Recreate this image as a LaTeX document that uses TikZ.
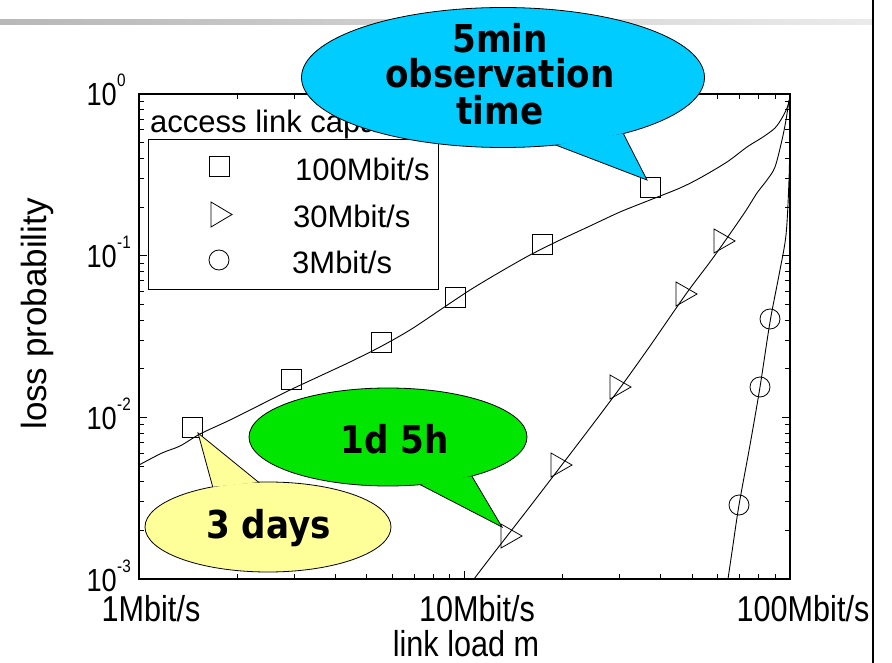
\documentclass[tikz,border=0pt]{standalone}
\usepackage{fontspec}
\setmainfont{Liberation Sans}
\newfontfamily\narrowfont[FakeStretch=0.85]{Liberation Sans}
\newfontfamily\callfont[FakeStretch=0.89]{DejaVu Sans}
\usetikzlibrary{shapes.geometric}
\definecolor{cblue}{RGB}{0,204,255}
\definecolor{cgreen}{RGB}{0,230,0}
\definecolor{cyellow}{RGB}{255,255,153}
\tikzset{
  frame/.style={line width=1.5pt},
  tick/.style={line width=0.8pt},
  curve/.style={line width=0.9pt},
  sqm/.style={draw, rectangle, minimum size=20pt, inner sep=0pt, outer sep=0pt, line width=0.8pt},
  cim/.style={draw, circle, minimum size=20pt, inner sep=0pt, outer sep=0pt, line width=0.8pt},
  trim/.style={line width=0.8pt, line join=miter},
  xlab/.style={font=\narrowfont\fontsize{36}{38}\selectfont, inner sep=0pt, anchor=base},
  ylab/.style={font=\narrowfont\fontsize{32}{34}\selectfont, inner sep=0pt, anchor=base east},
  ysup/.style={font=\narrowfont\fontsize{18}{20}\selectfont, inner sep=0pt, anchor=base west},
  legtext/.style={font=\fontsize{31}{33}\selectfont, inner sep=0pt, anchor=base west},
  bubble/.style={draw, ellipse, inner sep=0pt, outer sep=0pt, line width=0.8pt},
  calltext/.style={font=\callfont\bfseries\fontsize{38.4}{40}\selectfont, inner sep=0pt, anchor=base},
}
\begin{document}
\begin{tikzpicture}[x=1pt,y=-1pt]
\useasboundingbox (0,0) rectangle (892,663);
% top grey bar and right rule
\shade[left color=black!28, right color=black!8] (0,20) rectangle (872,25);
\draw[line width=2pt] (873,0) -- (873,663);
% frame
\draw[frame] (139,94) rectangle (790,579);
% x ticks
\foreach \d in {0,1} {
  \foreach \k in {2,...,9} {
    \pgfmathsetmacro\xx{139+325.5*(\d+ln(\k)/ln(10))}
    \draw[tick] (\xx,579) -- ++(0,-5);
    \draw[tick] (\xx,94) -- ++(0,5);
  }
}
\draw[tick] (464.5,579) -- ++(0,-8);
\draw[tick] (464.5,94) -- ++(0,8);
% y ticks
\foreach \d in {0,1,2} {
  \foreach \k in {2,...,9} {
    \pgfmathsetmacro\yy{579-161.7*(\d+ln(\k)/ln(10))}
    \draw[tick] (139,\yy) -- ++(5,0);
    \draw[tick] (790,\yy) -- ++(-5,0);
  }
}
\foreach \yy in {255.6,417.3} {
  \draw[tick] (139,\yy) -- ++(8,0);
  \draw[tick] (790,\yy) -- ++(-8,0);
}
% axis labels
\node[xlab] (x1) at (151,621) {1Mbit/s};
\node[xlab] (x2) at (477,621) {10Mbit/s};
\node[xlab] (x3) at (803,621) {100Mbit/s};
\node[xlab] (xl) at (466,656) {link load m};
\node[ylab] (y0) at (117,106) {10};
\node[ysup] (y0s) at (117,87) {0};
\node[ylab] (y1) at (117,267.6) {10};
\node[ysup] (y1s) at (117,248.6) {-1};
\node[ylab] (y2) at (117,429.3) {10};
\node[ysup] (y2s) at (117,410.3) {-2};
\node[ylab] (y3) at (117,591) {10};
\node[ysup] (y3s) at (117,572) {-3};
\node[font=\fontsize{35}{37}\selectfont, inner sep=0pt, rotate=90] (yl) at (37,314) {loss probability};
% curves
\draw[curve] plot[smooth, tension=0.5] coordinates {(139,465) (162,453) (180,446) (200,434) (230,420) (260,405) (290,390) (320,376) (350,362) (380,347) (410,330) (440,310) (470,290) (500,272) (530,255) (560,240) (590,226) (620,212) (650,200) (680,188) (700,178) (727,162) (747,147) (763,137) (775,128) (782,118) (787,108) (790,99)};
\draw[curve] plot[smooth, tension=0.5] coordinates {(474,579) (490,558) (511,531) (535,500) (561,466) (590,428) (620,388) (650,346) (686,294) (710,262) (725,241) (745,212) (757,193) (767,180) (775,167) (782,140) (786,120) (789,100)};
\draw[curve] plot[smooth, tension=0.5] coordinates {(728,579) (733,545) (739,505) (750,445) (760,387) (770,322) (779,275) (786,235) (789,180) (790,130) (790,96)};
% markers
\node[sqm] (s1) at (192,427) {};
\node[sqm] (s2) at (291,379) {};
\node[sqm] (s3) at (381,342) {};
\node[sqm] (s4) at (455,297) {};
\node[sqm] (s5) at (542,244) {};
\node[sqm] (s6) at (650,187) {};
\foreach \p in {(511,536),(561,465),(620,387),(686,294),(724,241)}
  \draw[trim, shift={\p}] (-10,-12) -- (11,0) -- (-10,12) -- cycle;
\node[cim] (c1) at (739,505) {};
\node[cim] (c2) at (760,387) {};
\node[cim] (c3) at (770,319) {};
% legend
\node[legtext] (lt) at (150,133) {access link capacity};
\draw[line width=0.9pt] (148,139) rectangle (438,289);
\node[sqm] (ls) at (219,166) {};
\node[legtext] (l1) at (295,181) {100Mbit/s};
\draw[trim] (211,202) -- (232,214.5) -- (211,227) -- cycle;
\node[legtext] (l2) at (293,228) {30Mbit/s};
\node[cim] (lc) at (219,260) {};
\node[legtext] (l3) at (292,273) {3Mbit/s};
% callouts
\coordinate (bluetip) at (647,180);
\coordinate (greentip) at (502,527);
\coordinate (yellowtip) at (198,433);
\node[bubble, fill=cblue, minimum width=403pt, minimum height=140pt] (blue) at (503,77.5) {};
\fill[cblue] (blue.-52) -- (bluetip) -- (blue.-25) -- cycle;
\draw[line width=0.8pt] (blue.-52) -- (bluetip) -- (blue.-25);
\node[calltext] (b1) at (500,53) {5min};
\node[calltext] (b2) at (500,88) {observation};
\node[calltext] (b3) at (500,125) {time};
\node[bubble, fill=cgreen, minimum width=278pt, minimum height=98pt] (green) at (388,437) {};
\fill[cgreen] (green.-56) -- (greentip) -- (green.-25) -- cycle;
\draw[line width=0.8pt] (green.-56) -- (greentip) -- (green.-25);
\node[calltext] (g1) at (394.5,453) {1d 5h};
\node[bubble, fill=cyellow, minimum width=246pt, minimum height=90pt] (yellow) at (268,527) {};
\fill[cyellow] (yellow.144) -- (yellowtip) -- (yellow.102) -- cycle;
\draw[line width=0.8pt] (yellow.144) -- (yellowtip) -- (yellow.102);
\node[calltext] (yy1) at (268.5,538) {3 days};
\end{tikzpicture}
\end{document}
